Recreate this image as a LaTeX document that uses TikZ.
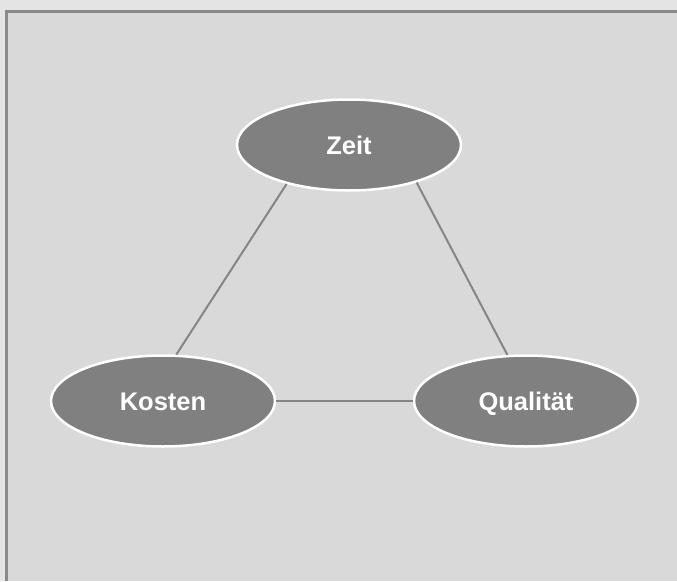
\documentclass[tikz,border=0pt]{standalone}
\usepackage{fontspec}
\setmainfont{Liberation Sans}
\usetikzlibrary{shapes.geometric}
\definecolor{bggray}{HTML}{D9D9D9}
\definecolor{outgray}{HTML}{E4E4E4}
\definecolor{framegray}{HTML}{8A8A8A}
\definecolor{nodegray}{HTML}{808080}
\definecolor{linegray}{HTML}{858585}
\tikzset{goal/.style={ellipse, draw=white, line width=2.5pt, fill=nodegray,
  minimum width=224pt, minimum height=91pt, inner sep=0pt,
  text height=18pt, text depth=0pt,
  text=white, font=\fontsize{25.5}{30}\selectfont\bfseries}}
\tikzset{edge/.style={draw=linegray, line width=2pt}}
\begin{document}
\begin{tikzpicture}[x=1pt, y=-1pt]
      \useasboundingbox (0, 0) rectangle (677, 581);
      \fill [outgray] (0, 0) rectangle (677, 581);
      \fill [bggray] (6, 11) rectangle (677, 581);
      \draw [framegray, line width=3pt] (6, 581) -- (6, 11) -- (677, 11);

      \node [goal] (zeit) at (349, 145) {Zeit};
      \node [goal] (kosten) at (163, 401) {Kosten};
      \node [goal] (qualitaet) at (526, 401) {Qualität};

      \draw [edge] (zeit.212) -- (kosten.74);
      \draw [edge] (zeit.331) -- (qualitaet.112);
      \draw [edge] (kosten.east) -- (qualitaet.west);
    \end{tikzpicture}
\end{document}
